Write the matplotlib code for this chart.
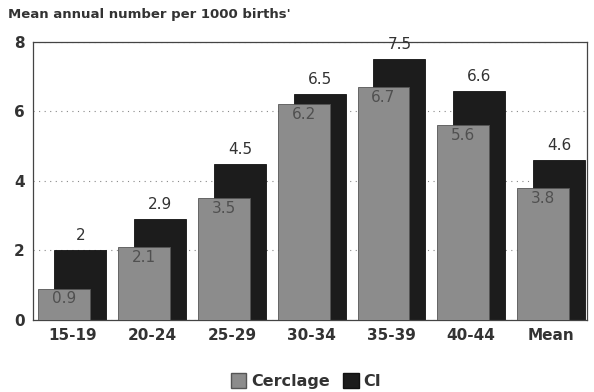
import numpy as np
import matplotlib.pyplot as plt
from matplotlib.patches import Patch

groups = ['15-19', '20-24', '25-29', '30-34', '35-39', '40-44', 'Mean']
cerclage = [0.9, 2.1, 3.5, 6.2, 6.7, 5.6, 3.8]
ci = [2, 2.9, 4.5, 6.5, 7.5, 6.6, 4.6]

C_GREY = '#8c8c8c'
C_BLACK = '#1c1c1c'

fig = plt.figure(figsize=(5.94, 3.92), dpi=100)
ax = fig.add_axes([0.056, 0.184, 0.932, 0.709])

x = np.arange(len(groups))
w = 0.65
off = 0.1

ax.bar(x + off, ci, width=w, color=C_BLACK, edgecolor='#111111', lw=0.6, zorder=2)
ax.bar(x - off, cerclage, width=w, color=C_GREY, edgecolor='#555555', lw=0.6, zorder=3)

for xi, v in zip(x, ci):
    ax.text(xi + off, v + 0.2, f'{v:g}', ha='center', va='bottom', fontsize=11, color='#333333', zorder=4)
for xi, v in zip(x, cerclage):
    ax.text(xi - off, v - 0.08, f'{v:g}', ha='center', va='top', fontsize=11, color='#505050', zorder=4)

ax.set_xlim(-0.49, 6.45)
ax.set_ylim(0, 8)
ax.set_yticks([0, 2, 4, 6, 8])
ax.set_xticks(x)
ax.set_xticklabels(groups, fontsize=11, fontweight='bold', color='#333333')
for lbl in ax.get_yticklabels():
    lbl.set_fontsize(11)
    lbl.set_fontweight('bold')
    lbl.set_color('#333333')
ax.tick_params(length=0, pad=6)
ax.yaxis.grid(True, linestyle=(0, (1, 4)), color='#888888', lw=0.8, zorder=0)
ax.set_axisbelow(True)
for s in ax.spines.values():
    s.set_color('#444444')
    s.set_linewidth(0.9)

fig.text(0.014, 0.962, "Mean annual number per 1000 births'", fontsize=9.5, fontweight='bold',
         color='#333333', ha='left', va='center')

handles = [Patch(facecolor=C_GREY, edgecolor='#555555', label='Cerclage'),
           Patch(facecolor=C_BLACK, edgecolor='#111111', label='CI')]
leg = fig.legend(handles=handles, loc='center', bbox_to_anchor=(0.515, 0.028), ncol=2, frameon=False,
                 handlelength=1.0, handleheight=1.0, handletextpad=0.3, columnspacing=0.8,
                 prop={'size': 11.5, 'weight': 'bold'})
for t in leg.get_texts():
    t.set_color('#333333')

fig.savefig('out.png', dpi=100)
